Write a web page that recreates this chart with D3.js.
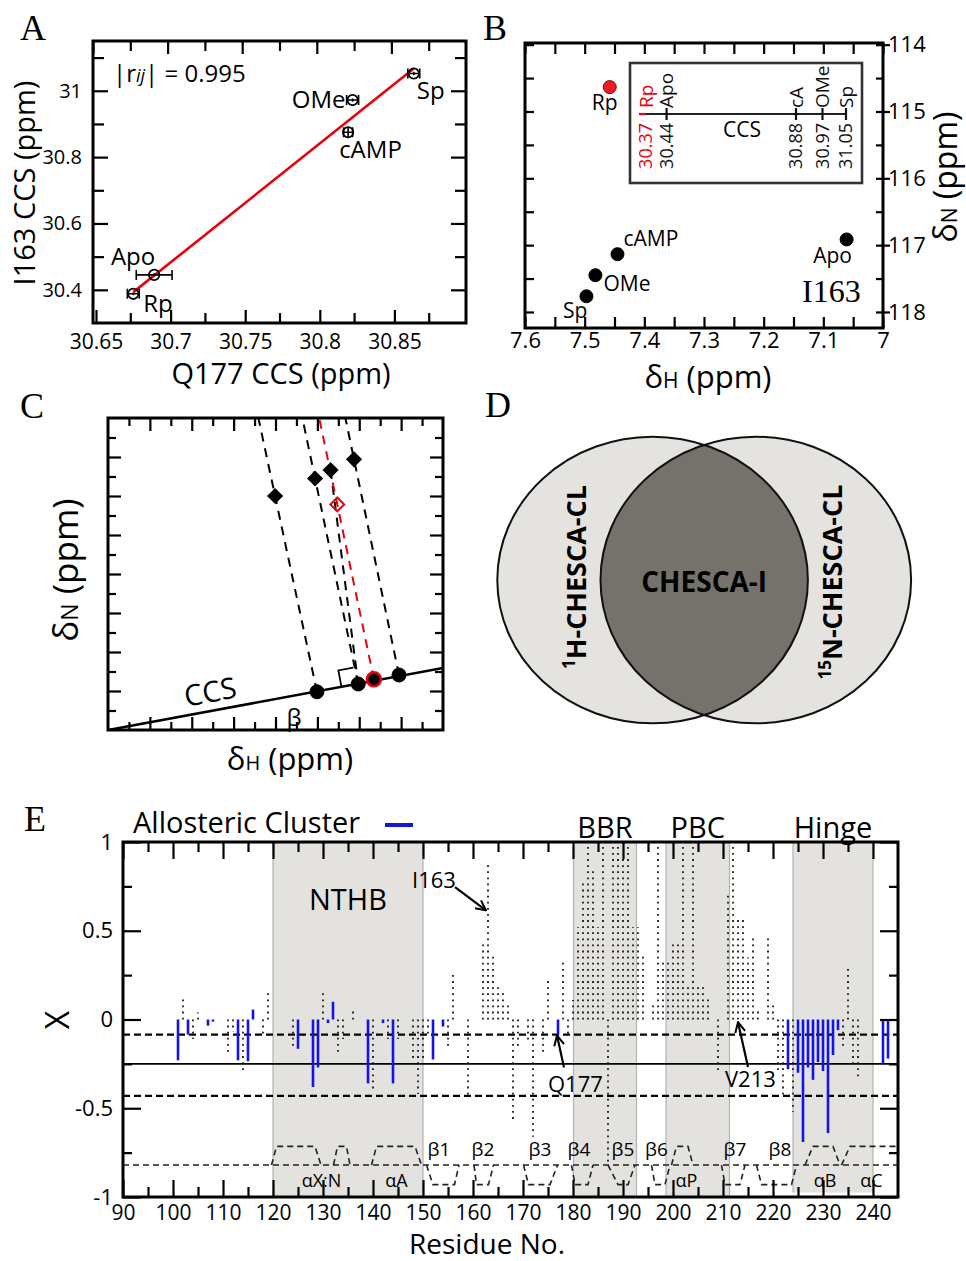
<!DOCTYPE html>
<html><head><meta charset="utf-8">
<script src="https://cdn.jsdelivr.net/npm/d3@7"></script>
<style>body{margin:0;background:#fff} svg{display:block}</style>
</head><body><svg id="c" width="966" height="1261"></svg>
<script>
// ================= DATA =================
// Panel A : CCS of I163 vs Q177
const aStates  = ['Apo','Rp','cAMP','OMe','Sp'];
const aQ177    = [30.691, 30.677, 30.821, 30.824, 30.865];
const aI163    = [30.445, 30.388, 30.875, 30.972, 31.052];
const aQ177Err = [0.012, 0.004, 0.003, 0.004, 0.004];
const aI163Err = [0.005, 0.004, 0.015, 0.005, 0.005];
const aXTicks  = [30.65, 30.7, 30.75, 30.8, 30.85];
const aXMinor  = [30.675, 30.725, 30.775, 30.825, 30.875];
const aYTicks  = [30.4, 30.6, 30.8, 31];
const aYMinor  = [30.5, 30.7, 30.9, 31.1];
const aRij = '0.995';
// Panel B : I163 chemical shifts
const bStates = ['Apo','Rp','cAMP','OMe','Sp'];
const bDH = [7.061, 7.458, 7.445, 7.482, 7.497];
const bDN = [116.915, 114.635, 117.135, 117.45, 117.765];
const bXTicks = [7.6, 7.5, 7.4, 7.3, 7.2, 7.1, 7];
const bXMinor = [7.55, 7.45, 7.35, 7.25, 7.15, 7.05];
const bYTicks = [114, 115, 116, 117, 118];
const bYMinor = [114.5, 115.5, 116.5, 117.5];
const insetNames = ['Rp','Apo','cA','OMe','Sp'];
const insetCCS   = [30.37, 30.44, 30.88, 30.97, 31.05];
// Panel C : schematic (arbitrary units)
const cCircleX  = [9.98, 11.95, 12.7, 13.9];
const cCircleY  = [1.96, 2.36, 2.6, 2.82];
const cDiamondX = [7.98, 9.89, 10.63, 11.75];
const cDiamondY = [12.0, 12.9, 13.33, 13.88];
const cRedDiamond = [10.95, 11.57];
const cCCSEnd = [16, 3.18];
const cTicks = [1,2,3,4,5,6,7,8,9,10,11,12,13,14,15];
// Panel D : Venn sets
const dSets = ['1H-CHESCA-CL', '15N-CHESCA-CL'];
const dIntersect = 'CHESCA-I';
// Panel E : CHESCA per-residue values
const eDotRes = [102,104,105,111,112,114,118,119,124,130,133,134,136,140,143,145,148,149,150,151,
  155,156,159,162,163,164,165,166,167,168,169,171,172,174,175,178,179,180,181,182,
  183,184,185,186,187,188,189,190,191,192,193,194,196,197,198,199,200,201,202,203,
  204,205,206,207,209,211,212,213,214,215,216,217,219,220,221,222,224,234,235,236,237];
const eDotVal = [0.12,-0.11,0.04,-0.20,-0.07,-0.30,-0.08,0.15,-0.16,0.15,-0.19,-0.11,0.05,-0.40,-0.11,-0.11,-0.24,-0.42,-0.22,-0.08,
  -0.15,0.26,-0.43,0.44,0.87,0.37,0.20,0.16,0.08,-0.58,-0.15,-0.13,-0.66,-0.20,0.22,0.33,-0.09,0.11,0.52,0.77,
  0.98,0.84,0.52,0.98,-0.81,0.98,0.98,0.91,0.98,0.52,0.52,0.36,0.085,0.98,0.33,0.33,0.44,0.44,0.98,0.19,
  0.98,0.20,0.20,0.12,-0.30,0.72,0.98,0.58,0.58,0.35,0.47,0.06,0.48,0.08,-0.30,-0.43,-0.52,-0.16,0.30,-0.27,-0.33];
const eBlueRes = [101,103,107,108,113,115,116,125,128,129,131,132,139,142,144,152,154,177,
  223,225,226,227,228,229,230,231,232,233,242,243];
const eBlueVal = [-0.23,-0.085,-0.035,-0.012,-0.23,-0.235,0.056,-0.165,-0.38,-0.27,-0.02,0.10,-0.36,-0.02,-0.36,-0.225,-0.04,-0.085,
  -0.28,-0.30,-0.69,-0.27,-0.34,-0.24,-0.29,-0.64,-0.20,-0.06,-0.25,-0.22];
const eRegionNames = ['NTHB','BBR','PBC','Hinge'];
const eRegionFrom  = [120, 180.1, 198.6, 224];
const eRegionTo    = [150, 192.7, 211.3, 240];
const eDashedLevels = [-0.085, -0.43];
const eSolidLevels  = [-0.25];
const eHelix  = [[119.7,120.7,128.4,129.6],[132.1,132.9,134.7,135.4],[139.7,140.7,148.4,149.7],
                 [199.7,200.7,203,204],[226.4,228,232,233.4],[233.7,235.4,245,245]];
const eStrand = [[150.7,152,156.3,157.2],[160.2,160.7,163.1,164.1],[170.1,171.1,175.4,176.9],[179.7,180.4,183,184],
                 [187,189,191,192.4],[195.7,196.4,198.4,199.4],[209.7,210.4,213.4,214.4],[216.7,217.7,223.7,224.7]];
const eHelixNames  = ['αX:N','αA','αP','αB','αC'];
const eHelixAt     = [129.7,144.7,202.7,230.4,239.7];
const eStrandNames = ['β1','β2','β3','β4','β5','β6','β7','β8'];
const eStrandAt    = [153.2,162,173.4,181.2,190,196.7,212.4,221.4];
const eXTicks = [90,100,110,120,130,140,150,160,170,180,190,200,210,220,230,240];
const eXMinor = [95,105,115,125,135,145,155,165,175,185,195,205,215,225,235];
const eYTicks = [-1,-0.5,0,0.5,1];
const eYMinor = [-0.75,-0.25,0.25,0.75];

// ================= SETUP =================
const SANS = "'Open Sans','Noto Sans','DejaVu Sans',sans-serif";
const SERIF = "'Liberation Serif','DejaVu Serif',serif";
const svg = d3.select('#c');
svg.append('rect').attr('width',966).attr('height',1261).attr('fill','#fff');
const defs = svg.append('defs');
defs.append('marker').attr('id','arr').attr('viewBox','0 0 12 12').attr('refX',11).attr('refY',6)
  .attr('markerWidth',12).attr('markerHeight',12).attr('markerUnits','userSpaceOnUse').attr('orient','auto')
  .append('path').attr('d','M1,1 L11,6 L1,11').attr('fill','none').attr('stroke','#000').attr('stroke-width',2);

function txt(p, x, y, s, fs, o={}) {
  const t = p.append('text').attr('x',x).attr('y',y).text(s)
    .style('font-family', o.family||SANS).style('font-size', fs+'px')
    .attr('fill', o.fill||'#000').attr('text-anchor', o.anchor||'start');
  if (o.weight) t.style('font-weight', o.weight);
  if (o.style) t.style('font-style', o.style);
  return t;
}
function rot(p, x, y, fs, o={}) {
  const t = p.append('text').attr('transform',`translate(${x},${y}) rotate(-90)`)
    .attr('dy', o.dy||'0.35em').attr('text-anchor', o.anchor||'middle')
    .style('font-family', o.family||SANS).style('font-size', fs+'px').attr('fill', o.fill||'#000');
  if (o.weight) t.style('font-weight', o.weight);
  return t;
}
function axisG(p, gen, scale, vals, k, pad, fs, fmt, tx, ty, sw) {
  const ax = gen(scale).tickValues(vals).tickSizeInner(k).tickSizeOuter(0).tickPadding(pad)
    .tickFormat(fmt || (() => ''));
  const g = p.append('g').attr('transform',`translate(${tx},${ty})`).call(ax);
  g.select('.domain').remove();
  g.selectAll('.tick line').attr('stroke','#000').attr('stroke-width', sw||2.2);
  g.selectAll('.tick text').attr('fill','#000').style('font-family',SANS).style('font-size',fs+'px');
  return g;
}
function frame(p, xs, ys, sw) {
  const [x0,x1] = xs.range(), [y0,y1] = ys.range();
  p.append('rect').attr('x',Math.min(x0,x1)).attr('y',Math.min(y0,y1))
   .attr('width',Math.abs(x1-x0)).attr('height',Math.abs(y1-y0))
   .attr('fill','none').attr('stroke','#000').attr('stroke-width',sw||3);
}
const lbl = String;

// panel letters
[['A',20,40],['B',483,40],['C',20,418],['D',485,417],['E',24,831]].forEach(([s,x,y]) =>
  txt(svg, x, y, s, 36, {family: SERIF}));

// ================= PANEL A =================
{
  const g = svg.append('g');
  const x = d3.scaleLinear().domain([30.65, 30.90]).range([93, 466]);
  const y = d3.scaleLinear().domain([30.30, 31.15]).range([323, 41]);
  axisG(g, d3.axisBottom, x, aXTicks, -13, 11, 21, lbl, 3, 323);
  axisG(g, d3.axisBottom, x, aXMinor, -10, 0, 21, null, 0, 323);
  axisG(g, d3.axisTop, x, aXTicks, -13, 0, 21, null, 0, 41);
  axisG(g, d3.axisTop, x, aXMinor, -10, 0, 21, null, 0, 41);
  axisG(g, d3.axisLeft, y, aYTicks, -15, 11, 20, lbl, 93, 0);
  axisG(g, d3.axisLeft, y, aYMinor, -11, 0, 20, null, 93, 0);
  axisG(g, d3.axisRight, y, aYTicks, -15, 0, 20, null, 466, 0);
  axisG(g, d3.axisRight, y, aYMinor, -11, 0, 20, null, 466, 0);

  // regression line
  const mx = d3.mean(aQ177), my = d3.mean(aI163);
  const sxy = d3.sum(aQ177, (v,i) => (v-mx)*(aI163[i]-my));
  const sxx = d3.sum(aQ177, v => (v-mx)*(v-mx));
  const sl = sxy/sxx, ic = my - sl*mx;
  const [x0, x1] = d3.extent(aQ177);
  g.append('line').attr('x1',x(x0)).attr('y1',y(ic+sl*x0)).attr('x2',x(x1)).attr('y2',y(ic+sl*x1))
    .attr('stroke','#e8000b').attr('stroke-width',2.6);

  aStates.forEach((s,i) => {
    const cx = x(aQ177[i]), cy = y(aI163[i]);
    g.append('circle').attr('cx',cx).attr('cy',cy).attr('r',5.2).attr('fill','none').attr('stroke','#000').attr('stroke-width',1.8);
    const xa = x(aQ177[i]-aQ177Err[i]), xb = x(aQ177[i]+aQ177Err[i]);
    const ya = y(aI163[i]-aI163Err[i]), yb = y(aI163[i]+aI163Err[i]);
    g.append('path').attr('d',`M${xa},${cy}H${xb}M${xa},${cy-5}V${cy+5}M${xb},${cy-5}V${cy+5}`)
      .attr('stroke','#000').attr('stroke-width',1.6).attr('fill','none');
    g.append('path').attr('d',`M${cx},${ya}V${yb}`).attr('stroke','#000').attr('stroke-width',1.6);
  });
  const off = {Apo:[1,-10,'end'], Rp:[10,18,'start'], cAMP:[-9,26,'start'], OMe:[-7,8,'end'], Sp:[3,25,'start']};
  aStates.forEach((s,i) => {
    const [dx,dy,an] = off[s];
    txt(g, x(aQ177[i])+dx, y(aI163[i])+dy, s, 24, {anchor: an});
  });
  const t = txt(g, 113, 82, '', 24);
  t.append('tspan').text('|r');
  t.append('tspan').text('ij').style('font-style','italic').style('font-size','18px');
  t.append('tspan').text('| = ' + aRij);
  frame(g, x, y, 3);
  rot(g, 25, 183, 29).text('I163 CCS (ppm)');
  txt(g, 281, 384, 'Q177 CCS (ppm)', 29, {anchor:'middle'});
}

// ================= PANEL B =================
{
  const g = svg.append('g');
  const x = d3.scaleLinear().domain([7.6, 7.0]).range([525, 883]);
  const y = d3.scaleLinear().domain([113.975, 118.24]).range([43, 328]);
  axisG(g, d3.axisBottom, x, bXTicks, -11, 4, 22, lbl, 0, 328);
  axisG(g, d3.axisBottom, x, bXMinor, -11, 0, 22, null, 0, 328);
  axisG(g, d3.axisTop, x, bXTicks, -11, 0, 22, null, 0, 43);
  axisG(g, d3.axisTop, x, bXMinor, -11, 0, 22, null, 0, 43);
  axisG(g, d3.axisLeft, y, bYTicks, -9, 0, 22, null, 525, 0);
  axisG(g, d3.axisLeft, y, bYMinor, -9, 0, 22, null, 525, 0);
  axisG(g, d3.axisRight, y, bYTicks, -7, 5, 22, lbl, 883, 0);
  axisG(g, d3.axisRight, y, bYTicks, 7, 0, 22, null, 883, 0);
  axisG(g, d3.axisRight, y, bYMinor, -7, 0, 22, null, 883, 0);
  frame(g, x, y, 3);

  bStates.forEach((s,i) => {
    const red = s === 'Rp';
    g.append('circle').attr('cx',x(bDH[i])).attr('cy',y(bDN[i])).attr('r',6.5)
      .attr('fill', red ? '#ec1c24' : '#000').attr('stroke', red ? '#8a0000' : '#000').attr('stroke-width',1);
  });
  const off = {Apo:[-14,24,'middle'], Rp:[-5,23,'middle'], cAMP:[6,-8,'start'], OMe:[8,16,'start'], Sp:[1,22,'end']};
  bStates.forEach((s,i) => {
    const [dx,dy,an] = off[s];
    txt(g, x(bDH[i])+dx, y(bDN[i])+dy, s, 21, {anchor: an});
  });
  txt(g, 802, 302, 'I163', 32, {family: SERIF});

  // inset CCS scale
  g.append('rect').attr('x',630).attr('y',63).attr('width',232).attr('height',120)
    .attr('fill','#fff').attr('stroke','#333').attr('stroke-width',2.6);
  const cs = d3.scaleLinear().domain([30.37, 31.05]).range([646, 846]);
  const ly = 114;
  g.append('line').attr('x1',cs(d3.min(insetCCS))).attr('x2',cs(d3.max(insetCCS))).attr('y1',ly).attr('y2',ly)
    .attr('stroke','#222').attr('stroke-width',2.2);
  insetNames.forEach((n,i) => {
    const red = n === 'Rp', col = red ? '#e8000b' : '#111';
    const xx = cs(insetCCS[i]);
    if (red) {
      g.append('line').attr('x1',xx-7).attr('x2',xx).attr('y1',ly).attr('y2',ly).attr('stroke',col).attr('stroke-width',2.2);
    } else {
      g.append('line').attr('x1',xx).attr('x2',xx).attr('y1',ly-6).attr('y2',ly+6).attr('stroke',col).attr('stroke-width',2.2);
    }
    rot(g, xx, ly-6, 19, {anchor:'start', fill: col}).text(n);
    rot(g, xx, ly+9, 18, {anchor:'end', fill: col}).text(insetCCS[i].toFixed(2));
  });
  txt(g, 742, 137, 'CCS', 21, {anchor:'middle'});

  const tx = txt(g, 708, 388, '', 31, {anchor:'middle'});
  tx.append('tspan').text('δ');
  tx.append('tspan').text('H').style('font-size','21px');
  tx.append('tspan').text(' (ppm)');
  const ty = rot(g, 946, 177, 32);
  ty.append('tspan').text('δ');
  ty.append('tspan').text('N').style('font-size','21px');
  ty.append('tspan').text(' (ppm)');
}

// ================= PANEL C =================
{
  const g = svg.append('g');
  const x = d3.scaleLinear().domain([0,16]).range([108, 443]);
  const y = d3.scaleLinear().domain([0,16]).range([730, 418]);
  const even = cTicks.filter(d => d%2===0), odd = cTicks.filter(d => d%2===1);
  [[even,-13],[odd,-8]].forEach(([v,k]) => {
    axisG(g, d3.axisBottom, x, v, k, 0, 10, null, 0, 730);
    axisG(g, d3.axisTop, x, v, k, 0, 10, null, 0, 418);
    axisG(g, d3.axisLeft, y, v, k, 0, 10, null, 108, 0);
    axisG(g, d3.axisRight, y, v, k, 0, 10, null, 443, 0);
  });
  const clip = defs.append('clipPath').attr('id','clipC');
  clip.append('rect').attr('x',108).attr('y',418).attr('width',335).attr('height',312);
  const inner = g.append('g').attr('clip-path','url(#clipC)');
  const topY = 16;
  function extLine(c, d) { // from circle through diamond up to the top edge
    const t = (topY - c[1]) / (d[1] - c[1]);
    return [c, [c[0] + (d[0]-c[0])*t, topY]];
  }
  const pairs = [[0,0],[1,1],[3,3]];
  pairs.forEach(([ci,di]) => {
    const L = extLine([cCircleX[ci],cCircleY[ci]],[cDiamondX[di],cDiamondY[di]]);
    inner.append('line').attr('x1',x(L[0][0])).attr('y1',y(L[0][1])).attr('x2',x(L[1][0])).attr('y2',y(L[1][1]))
      .attr('stroke','#000').attr('stroke-width',2).attr('stroke-dasharray','9,7');
  });
  inner.append('line').attr('x1',x(cDiamondX[2])).attr('y1',y(cDiamondY[2])).attr('x2',x(cCircleX[1])).attr('y2',y(cCircleY[1]))
    .attr('stroke','#000').attr('stroke-width',2).attr('stroke-dasharray','9,7');
  const RL = extLine([cCircleX[2],cCircleY[2]], cRedDiamond);
  inner.append('line').attr('x1',x(RL[0][0])).attr('y1',y(RL[0][1])).attr('x2',x(RL[1][0])).attr('y2',y(RL[1][1]))
    .attr('stroke','#e8000b').attr('stroke-width',2).attr('stroke-dasharray','9,7');
  inner.append('line').attr('x1',x(0)).attr('y1',y(0)).attr('x2',x(cCCSEnd[0])).attr('y2',y(cCCSEnd[1]))
    .attr('stroke','#000').attr('stroke-width',2.6);
  const ux = x(cCCSEnd[0])-x(0), uy = y(cCCSEnd[1])-y(0), ul = Math.hypot(ux,uy);
  const ex = ux/ul, ey = uy/ul, px = ey, py = -ex;
  const bx = x(cCircleX[1]) - 17*ex, by = y(cCircleY[1]) - 17*ey;
  g.append('path').attr('d',`M${bx},${by} L${bx+px*17},${by+py*17} L${bx+px*17+ex*15},${by+py*17+ey*15}`)
    .attr('fill','none').attr('stroke','#000').attr('stroke-width',1.8);
  cCircleX.forEach((cx,i) => {
    const red = i === 2;
    g.append('circle').attr('cx',x(cx)).attr('cy',y(cCircleY[i])).attr('r',7)
      .attr('fill','#000').attr('stroke', red ? '#e8000b' : '#000').attr('stroke-width', red ? 2.6 : 1);
  });
  const sq = d3.symbol(d3.symbolSquare, 130);
  cDiamondX.forEach((dx,i) => {
    g.append('path').attr('d',sq()).attr('transform',`translate(${x(dx)},${y(cDiamondY[i])}) rotate(45)`).attr('fill','#000');
  });
  g.append('path').attr('d', d3.symbol(d3.symbolSquare, 95)())
    .attr('transform',`translate(${x(cRedDiamond[0])},${y(cRedDiamond[1])}) rotate(45)`)
    .attr('fill','none').attr('stroke','#e8000b').attr('stroke-width',2);
  frame(g, x, y, 3);
  const ang = Math.atan2(-uy, ux) * 180/Math.PI;
  g.append('text').attr('transform',`translate(212,702) rotate(${-ang})`).attr('text-anchor','middle')
    .style('font-family',SANS).style('font-size','29px').text('CCS');
  txt(g, 294, 726, 'β', 24, {anchor:'middle'});
  const tY = rot(g, 66, 570, 35);
  tY.append('tspan').text('δ'); tY.append('tspan').text('N').style('font-size','23px'); tY.append('tspan').text(' (ppm)');
  const tX = txt(g, 290, 770, '', 31, {anchor:'middle'});
  tX.append('tspan').text('δ'); tX.append('tspan').text('H').style('font-size','20px'); tX.append('tspan').text(' (ppm)');
}

// ================= PANEL D =================
{
  const g = svg.append('g');
  const vx = d3.scaleLinear().domain([-1, 1]).range([652.6, 755.8]);
  const cy = 580, rx = 155.3, ry = 143.3;
  const cx = [vx(-1), vx(1)];
  cx.forEach(c => g.append('ellipse').attr('cx',c).attr('cy',cy).attr('rx',rx).attr('ry',ry).attr('fill','#e5e3df'));
  defs.append('clipPath').attr('id','clipD').append('ellipse').attr('cx',cx[0]).attr('cy',cy).attr('rx',rx).attr('ry',ry);
  g.append('ellipse').attr('cx',cx[1]).attr('cy',cy).attr('rx',rx).attr('ry',ry).attr('fill','#75726c').attr('clip-path','url(#clipD)');
  cx.forEach(c => g.append('ellipse').attr('cx',c).attr('cy',cy).attr('rx',rx).attr('ry',ry)
    .attr('fill','none').attr('stroke','#111').attr('stroke-width',2));
  txt(g, vx(0), 592, dIntersect, 28, {anchor:'middle', weight:'bold'});
  [[dSets[0], 577, 577], [dSets[1], 833, 582]].forEach(([s,xx,yy]) => {
    const m = s.match(/^(\d+)(.*)$/);
    const t = rot(g, xx, yy, 27, {weight:'bold'});
    t.append('tspan').text(m[1]).attr('baseline-shift','super').style('font-size','17px');
    t.append('tspan').text(m[2]);
  });
}

// ================= PANEL E =================
{
  const g = svg.append('g');
  const x = d3.scaleLinear().domain([90, 245]).range([123, 898]);
  const y = d3.scaleLinear().domain([-1, 1]).range([1197, 842]);
  eRegionNames.forEach((n,i) => {
    const bottom = n === 'Hinge' ? y(-0.975) : y(-1);
    g.append('rect').attr('x',x(eRegionFrom[i])).attr('y',y(1)).attr('width',x(eRegionTo[i])-x(eRegionFrom[i]))
      .attr('height',bottom-y(1)).attr('fill','#e4e2df');
    [eRegionFrom[i], eRegionTo[i]].forEach(v => g.append('line').attr('x1',x(v)).attr('x2',x(v))
      .attr('y1',y(1)).attr('y2',bottom).attr('stroke','#b3b3b3').attr('stroke-width',1.2));
  });
  eDashedLevels.forEach(v => g.append('line').attr('x1',x(90)).attr('x2',x(245)).attr('y1',y(v)).attr('y2',y(v))
    .attr('stroke','#000').attr('stroke-width',2.2).attr('stroke-dasharray','7,4'));
  eSolidLevels.forEach(v => g.append('line').attr('x1',x(90)).attr('x2',x(245)).attr('y1',y(v)).attr('y2',y(v))
    .attr('stroke','#000').attr('stroke-width',1.6));
  eDotRes.forEach((r,i) => g.append('line').attr('x1',x(r)).attr('x2',x(r)).attr('y1',y(0)).attr('y2',y(eDotVal[i]))
    .attr('stroke','#1a1a1a').attr('stroke-width',1.8).attr('stroke-dasharray','1.8,4.3'));
  eBlueRes.forEach((r,i) => g.append('line').attr('x1',x(r)).attr('x2',x(r)).attr('y1',y(0)).attr('y2',y(eBlueVal[i]))
    .attr('stroke','#1414e6').attr('stroke-width',2.6));
  const base = -0.82, hTop = -0.715, sBot = -0.93;
  const ssStyle = s => s.attr('fill','none').attr('stroke','#222').attr('stroke-width',1.6).attr('stroke-dasharray','6,4');
  ssStyle(g.append('line').attr('x1',x(90)).attr('x2',x(245)).attr('y1',y(base)).attr('y2',y(base)));
  const ln = d3.line().x(d => x(d[0])).y(d => y(d[1]));
  eHelix.forEach(h => ssStyle(g.append('path').attr('d', ln([[h[0],base],[h[1],hTop],[h[2],hTop],[h[3],base]]))));
  eStrand.forEach(h => ssStyle(g.append('path').attr('d', ln([[h[0],base],[h[1],sBot],[h[2],sBot],[h[3],base]]))));
  eHelixNames.forEach((n,i) => txt(g, x(eHelixAt[i]), y(-0.946), n, 18, {anchor:'middle'}));
  eStrandNames.forEach((n,i) => txt(g, x(eStrandAt[i]), y(-0.77), n, 19, {anchor:'middle'}));
  axisG(g, d3.axisBottom, x, eXTicks, -17, 8, 21, lbl, 0, 1197);
  axisG(g, d3.axisBottom, x, eXMinor, -10, 0, 21, null, 0, 1197);
  axisG(g, d3.axisTop, x, eXTicks, -17, 0, 22, null, 0, 842);
  axisG(g, d3.axisTop, x, eXMinor, -10, 0, 22, null, 0, 842);
  axisG(g, d3.axisLeft, y, eYTicks, -18, 10, 22, lbl, 123, 0);
  axisG(g, d3.axisLeft, y, eYMinor, -9, 0, 22, null, 123, 0);
  axisG(g, d3.axisRight, y, eYTicks, -18, 0, 22, null, 898, 0);
  axisG(g, d3.axisRight, y, eYMinor, -9, 0, 22, null, 898, 0);
  frame(g, x, y, 3);
  eRegionNames.forEach((n,i) => {
    const mid = (eRegionFrom[i] + eRegionTo[i]) / 2;
    txt(g, x(mid), y(n === 'NTHB' ? 0.617 : 1.022), n, 29, {anchor:'middle'});
  });
  const ann = [
    {s:'I163', t:[147.8, 0.74], a:[156.4, 0.746], b:[162.6, 0.615]},
    {s:'Q177', t:[175.0, -0.41], a:[178.2, -0.27], b:[176.8, -0.09]},
    {s:'V213', t:[210.4, -0.38], a:[215.0, -0.268], b:[213.0, -0.015]}
  ];
  ann.forEach(d => {
    txt(g, x(d.t[0]), y(d.t[1]), d.s, 22);
    g.append('line').attr('x1',x(d.a[0])).attr('y1',y(d.a[1])).attr('x2',x(d.b[0])).attr('y2',y(d.b[1]))
      .attr('stroke','#000').attr('stroke-width',2.2).attr('marker-end','url(#arr)');
  });
  txt(g, 133, 833, 'Allosteric Cluster', 29);
  g.append('line').attr('x1',385).attr('x2',413).attr('y1',825).attr('y2',825).attr('stroke','#1414e6').attr('stroke-width',4);
  rot(g, 58, 1020, 32).text('X');
  txt(g, 487, 1254, 'Residue No.', 28, {anchor:'middle'});
}
</script></body></html>
